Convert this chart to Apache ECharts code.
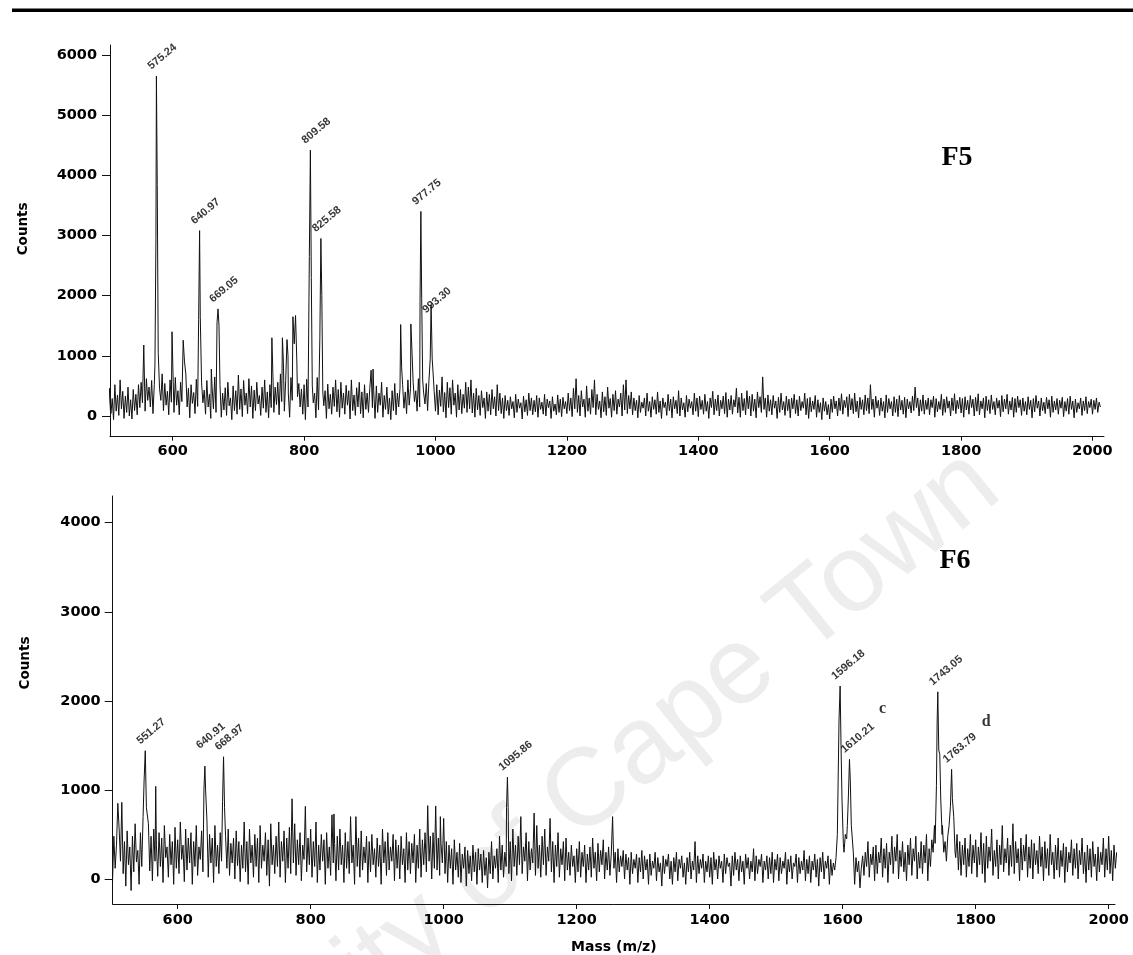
<!DOCTYPE html>
<html>
<head>
<meta charset="utf-8">
<script src="https://cdn.jsdelivr.net/npm/echarts@6/dist/echarts.min.js"></script>
<style>
html,body{margin:0;padding:0;background:#fff;}
#chart{width:1133px;height:955px;}
</style>
</head>
<body>
<div id="chart"></div>
<script>
// ---------- DATA ----------
const NOISE_START = 500;
const NOISE_STEP = 2;

const f5Noise = [
  380, -20, 460, 40, 290, -60, 520, 80, 350, 10, 600, 120, 410, -40, 330, 60, 480, 0, 270, -50, 440, 90, 360, 20, 520,
  140, 560, 220, 430, 80, 620, 260, 480, 150, 590, 40, 520, 200, 640, 110, 460, 260, 700, 90, 540, 180, 410, 20, 600, 230,
  500, 60, 640, 180, 420, 20, 560, 240, 380, 90, 700, 150, 460, -30, 520, 210, 390, 40, 610, 160, 480, 70, 550, 220, 430,
  30, 590, 150, 360, -40, 480, 120, 650, 60, 420, 180, 520, -20, 380, 100, 470, 10, 560, 170, 300, -60, 500, 90, 420, 30,
  680, 110, 450, -10, 590, 180, 380, 40, 620, 150, 500, -40, 430, 90, 560, 200, 340, 10, 480, 130, 600, 60, 400, -30, 520,
  140, 660, 60, 480, 190, 560, 20, 700, 240, 420, 80, 590, 150, 380, -20, 640, 260, 500, 100, 880, 320, 540, 150, 450, 30,
  520, -60, 610, 150, 430, 40, 560, 220, 380, -30, 640, 100, 480, 10, 590, 170, 420, -40, 530, 120, 360, 30, 480, 160, 600,
  70, 440, -20, 560, 130, 380, 30, 510, 180, 420, -50, 600, 90, 350, 10, 470, 150, 560, 40, 400, -30, 520, 110, 380, 60,
  460, 760, 140, 420, -40, 500, 60, 380, 180, 560, -20, 340, 110, 480, 30, 300, -60, 420, 90, 540, 20, 380, 150, 460, 0,
  520, 130, 400, 40, 600, 180, 460, -10, 560, 240, 420, 80, 620, 150, 500, 60, 380, 200, 540, 90, 580, 120, 460, 30, 410,
  80, 520, 20, 430, 160, 650, 70, 390, -30, 560, 140, 470, 30, 600, 180, 380, -20, 520, 100, 440, 40, 360, 130, 560, 60,
  480, 120, 600, 50, 380, -20, 460, 100, 340, 10, 420, 140, 300, -40, 400, 80, 360, 20, 440, 120, 320, 0, 520, 90, 380,
  40, 300, -40, 340, 90, 260, 10, 320, 120, 240, -30, 360, 60, 280, 130, 220, -50, 330, 70, 270, 10, 380, 90, 300, 20,
  260, 70, 340, -20, 300, 110, 230, 30, 360, 0, 280, 140, 250, -40, 320, 80, 200, 20, 350, 60, 280, -10, 310, 120, 240,
  40, 380, 90, 300, -10, 460, 120, 620, 60, 340, 0, 420, 150, 280, -20, 500, 80, 300, 30, 440, 140, 600, 20, 360, 110,
  250, -30, 400, 70, 320, 10, 480, 130, 290, -20, 360, 90, 420, 30, 280, 150, 380, 0, 520, 100, 600, 40, 340, 120, 400,
  20, 300, 90, 260, -30, 340, 60, 230, 130, 300, 0, 380, 80, 240, -20, 320, 110, 270, 30, 400, 60, 250, -40, 300, 140,
  230, 10, 360, 90, 280, -30, 320, 120, 260, 40, 420, 0, 300, 100, 220, -20, 340, 70, 280, 130, 240, 20, 380, 80, 300,
  -10, 330, 110, 260, 30, 360, 80, 240, -40, 300, 140, 410, 20, 280, 90, 350, 0, 260, 120, 330, 40, 390, -20, 280, 100,
  340, 30, 270, 150, 460, 50, 310, -20, 380, 90, 290, 20, 420, 120, 330, 0, 360, 80, 280, -30, 400, 140, 320, 60, 650,
  110, 300, -20, 350, 80, 270, 20, 340, 130, 250, -40, 310, 60, 380, 100, 240, 10, 330, 90, 280, -30, 300, 120, 360, 40,
  270, 0, 330, 90, 240, 130, 380, 20, 290, -40, 310, 70, 250, 110, 340, -20, 270, 60, 220, -60, 300, 80, 240, 20, 190,
  -50, 280, 60, 330, 120, 250, 0, 300, 90, 370, 30, 260, 140, 320, -10, 360, 100, 290, 40, 380, 70, 250, -30, 310, 110,
  270, 20, 350, 90, 300, 40, 520, 110, 280, -20, 330, 130, 260, 10, 300, 80, 240, -30, 350, 60, 290, 120, 240, 0, 320,
  60, 280, -10, 340, 100, 260, 30, 310, -30, 280, 120, 240, 50, 330, 90, 480, 140, 300, 0, 270, 80, 350, 30, 260, 110,
  300, 20, 270, 140, 330, -20, 290, 70, 240, 110, 360, 10, 280, 60, 320, 130, 250, 0, 300, 90, 370, 40, 260, 120, 310,
  50, 290, -20, 320, 100, 260, 30, 340, 140, 280, 0, 310, 80, 370, 20, 250, 120, 300, -30, 330, 90, 270, 40, 350, 110,
  240, 20, 300, 130, 260, -10, 340, 70, 280, 120, 360, 30, 250, 100, 310, -20, 290, 60, 330, 140, 270, 10, 300, 80, 240,
  20, 320, 110, 260, -30, 290, 70, 340, 130, 250, 0, 300, 90, 230, 40, 310, 120, 270, -20, 330, 60, 250, 100, 290, 30,
  260, 130, 310, -10, 240, 80, 290, 30, 330, 110, 250, -30, 280, 60, 220, 120, 300, 10, 250, 90, 320, 40, 240, 140, 280,
  30, 260, 110, 300, 60, 230, 150
];

const f6Noise = [
  720, -40, 480, 120, 380, -110, 560, 200, 860, 60, 420, -80, 540, 160, 360, -130, 480, 80, 620, 190, 320, -60, 520, 140, 700,
  400, 1000, 180, 620, 90, 480, -20, 560, 200, 380, 30, 520, 140, 460, -40, 600, 240, 360, 20, 500, 160, 420, -60, 580, 120,
  440, 60, 640, 220, 380, -30, 560, 100, 460, 180, 520, -60, 420, 140, 600, 40, 360, 220, 540, 80, 420, 160, 660, 20, 500,
  180, 460, -40, 600, 140, 380, 60, 520, 200, 420, -20, 480, 120, 560, 40, 400, 180, 460, 0, 540, 150, 420, -30, 380, 120,
  640, 80, 420, -60, 560, 180, 380, 20, 500, 140, 460, -40, 600, 120, 380, 200, 520, 40, 440, -80, 620, 160, 380, 60, 480,
  140, 640, 20, 420, 200, 540, -40, 460, 120, 580, 60, 900, 180, 620, 40, 440, 160, 520, -20, 380, 220, 800, 80, 460, 160,
  560, 20, 420, 140, 640, -40, 380, 100, 500, 200, 440, -60, 520, 120, 360, 40, 720, 180, 400, -20, 480, 100, 560, 160, 380,
  -40, 520, 120, 420, 60, 600, 180, 380, -60, 700, 140, 460, 20, 540, 100, 360, 180, 480, -40, 420, 80, 500, 160, 340, 20,
  460, 140, 380, -60, 560, 180, 420, 40, 520, 100, 360, 200, 500, -20, 440, 120, 380, 0, 480, 160, 340, -40, 520, 100, 420,
  60, 400, 180, 500, -40, 380, 120, 560, 20, 440, 160, 520, 80, 380, 200, 480, 0, 520, 120, 820, 100, 460, 40, 400, 180,
  680, 60, 420, -40, 380, 120, 340, -60, 440, 100, 300, 20, 400, -40, 280, 120, 360, -80, 320, 60, 260, -20, 380, 80, 300,
  -60, 340, 100, 280, -40, 320, 40, 240, -100, 300, 60, 420, 0, 260, 120, 340, -40, 480, 100, 380, 20, 300, 140, 500, 60,
  420, -20, 560, 140, 380, 40, 480, 160, 700, 60, 360, 200, 520, -20, 420, 100, 340, 180, 740, 40, 600, 120, 380, 20, 480,
  160, 560, 40, 360, 200, 680, 80, 420, -40, 380, 140, 520, 20, 340, 160, 420, -20, 460, 100, 300, 40, 380, 140, 260, -40,
  340, 80, 420, 20, 300, 140, 380, -40, 280, 100, 360, 20, 460, 120, 300, -20, 400, 80, 320, 160, 440, 0, 300, 100, 360,
  40, 280, 700, 120, 300, -40, 340, 80, 260, 140, 320, 0, 280, 100, 240, -60, 300, 60, 220, 120, 280, -40, 240, 80, 320,
  0, 260, 100, 220, -60, 280, 40, 200, 120, 300, -20, 240, 80, 180, -80, 260, 60, 220, 140, 280, 0, 200, -60, 240, 80,
  300, -20, 220, 120, 260, 20, 180, -60, 240, 80, 300, 0, 200, 100, 420, -40, 260, 60, 220, 120, 280, -40, 200, 80, 260,
  20, 240, -60, 300, 100, 220, 0, 260, 120, 200, -40, 280, 60, 240, 140, 180, -80, 260, 40, 300, 100, 220, -20, 260, 80,
  200, -60, 280, 120, 240, 0, 200, 80, 340, -20, 260, 60, 220, 140, 280, -40, 200, 100, 260, 0, 240, 60, 300, -40, 220,
  100, 280, -20, 240, 60, 200, 120, 300, -60, 220, 80, 260, 0, 180, 140, 280, -40, 240, 60, 200, 100, 320, -20, 220, 60,
  260, -40, 200, 100, 280, 20, 220, -80, 240, 80, 300, 0, 200, 120, 260, -60, 220, 40, 180, 100, 240, 340, 200, 500, 900,
  400, 300, 500, 450, 700, 900, 1100, 600, 300, -60, 240, 80, 200, -100, 120, 260, 40, 300, 140, 420, 20, 280, 160, 360, -20,
  380, 60, 300, 180, 460, 20, 340, 120, 400, -40, 300, 160, 480, 60, 360, 200, 500, 0, 320, 140, 420, 80, 300, -20, 380,
  160, 460, 40, 340, 200, 480, 0, 300, 120, 420, 60, 380, 180, 500, -20, 340, 140, 440, 300, 600, 900, 1200, 1400, 1300, 900,
  600, 300, 420, 200, 480, 500, 600, 700, 600, 500, 240, 500, 100, 420, 40, 380, 160, 460, 20, 340, 140, 500, 60, 380, 180,
  440, 20, 360, 160, 520, 60, 400, -40, 480, 120, 360, 200, 560, 40, 320, 140, 440, 0, 380, 160, 600, 80, 340, 180, 460,
  40, 380, 140, 620, 60, 420, 180, 340, -20, 460, 100, 380, 200, 500, 20, 360, 120, 440, 0, 400, 160, 320, 60, 480, 140,
  360, -20, 420, 120, 340, 40, 500, 160, 300, 0, 380, 100, 460, 20, 320, 140, 400, -40, 360, 80, 300, 180, 440, 40, 340,
  120, 400, 0, 320, 160, 460, 60, 300, -40, 380, 100, 340, 20, 420, 140, 280, -20, 360, 80, 300, 160, 460, 20, 340, 100,
  480, 60, 320, -20, 380, 120, 300
];

// Peak clusters: [m/z, counts]
const f5Peaks = [
  [[556, 1180]],
  [[573, 850], [574.5, 2950], [575.24, 5650], [576.5, 3850], [578, 1050]],
  [[599, 1400], [600.5, 700]],
  [[616, 1260], [618, 900]],
  [[639.5, 1600], [640.97, 3080], [642, 1650]],
  [[658.8, 780]],
  [[667.5, 1550], [669.05, 1780], [670.5, 1500]],
  [[751, 1300], [752.5, 700]],
  [[767, 1300], [768.5, 900]],
  [[774, 1270], [775.5, 1000]],
  [[783, 1650], [785, 1200], [787, 1670], [789, 900]],
  [[808, 2650], [809.58, 4420], [811, 2300], [812.5, 500]],
  [[824, 1300], [825.58, 2950], [827, 2000], [828.5, 400]],
  [[905, 780]],
  [[947, 1520], [948.5, 800]],
  [[962.5, 1530], [964.5, 1000]],
  [[976.5, 1900], [977.75, 3400], [979, 1950], [980.5, 600]],
  [[992, 950], [993.3, 1850], [995, 950], [997, 600]]
];

const f6Peaks = [
  [[510, 850]],
  [[549.5, 1100], [551.27, 1440], [553, 800], [555, 820]],
  [[567, 1040]],
  [[639.5, 1000], [640.91, 1267], [642, 1000]],
  [[667.5, 870], [668.97, 1372], [670.5, 800]],
  [[773, 910]],
  [[792, 815]],
  [[835, 730]],
  [[860, 700]],
  [[976, 823]],
  [[995, 700]],
  [[1094.5, 800], [1095.86, 1143], [1097, 800]],
  [[1592, 500], [1594.5, 1784], [1596.18, 2166], [1597.5, 1500], [1599, 886], [1601, 400]],
  [[1607, 600], [1608.5, 909], [1610.21, 1343], [1611.5, 1100], [1613, 600]],
  [[1739, 400], [1741, 1050], [1742, 1750], [1743.05, 2101], [1744.5, 1448], [1746, 1400], [1747.5, 887], [1749.5, 500]],
  [[1760, 600], [1762, 812], [1763.79, 1231], [1765, 900], [1767, 700], [1769, 300]]
];

// Labelled peaks: m/z and the counts level at which each label sits
const f5LabelMz = [575.24, 640.97, 669.05, 809.58, 825.58, 977.75, 993.30];
const f5LabelCounts = [5650, 3080, 1780, 4420, 2950, 3400, 1600];
const f6LabelMz = [551.27, 640.91, 668.97, 1095.86, 1596.18, 1610.21, 1743.05, 1763.79];
const f6LabelCounts = [1440, 1390, 1372, 1143, 2166, 1343, 2101, 1231];

// Letter annotations in F6 [m/z, counts, text]
const f6Letters = [[1660, 1910, 'c'], [1816, 1766, 'd']];

// Axis ticks
const xTicks = [600, 800, 1000, 1200, 1400, 1600, 1800, 2000];
const f5YTicks = [0, 1000, 2000, 3000, 4000, 5000, 6000];
const f6YTicks = [0, 1000, 2000, 3000, 4000];

// ---------- BUILD ----------
function buildSpectrum(noise, peaks) {
  let pts = noise.map((v, i) => [NOISE_START + i * NOISE_STEP, v]);
  peaks.forEach(cl => {
    const lo = cl[0][0], hi = cl[cl.length - 1][0];
    pts = pts.filter(p => p[0] < lo - 0.01 || p[0] > hi + 0.01);
  });
  peaks.forEach(cl => cl.forEach(p => pts.push(p)));
  pts.sort((a, b) => a[0] - b[0]);
  return pts;
}

const BLACK = '#111';
const tickFont = { fontFamily: 'DejaVu Sans', fontWeight: 'bold', fontSize: 14.5, color: '#000' };
const plain = v => String(v);

function xAxisCfg(gridIndex, min, max, margin, tickLen, name) {
  return {
    type: 'value', gridIndex, min, max,
    axisLine: { show: true, onZero: false, lineStyle: { color: BLACK, width: 1 } },
    axisTick: { show: true, inside: false, length: tickLen, customValues: xTicks, lineStyle: { color: BLACK } },
    axisLabel: Object.assign({ customValues: xTicks, margin: margin, formatter: plain }, tickFont),
    splitLine: { show: false },
    name: name || '', nameLocation: 'middle', nameGap: 36,
    nameTextStyle: { fontFamily: 'DejaVu Sans', fontWeight: 'bold', fontSize: 14, color: '#000' }
  };
}
function yAxisCfg(gridIndex, min, max, ticks, margin, namePad) {
  return {
    type: 'value', gridIndex, min, max,
    axisLine: { show: true, onZero: false, lineStyle: { color: BLACK, width: 1 } },
    axisTick: { show: true, inside: false, length: 8, customValues: ticks, lineStyle: { color: BLACK } },
    axisLabel: Object.assign({ customValues: ticks, margin: margin, formatter: plain }, tickFont),
    splitLine: { show: false },
    name: 'Counts', nameLocation: 'middle', nameGap: 80, nameRotate: 90,
    nameTextStyle: { fontFamily: 'DejaVu Sans', fontWeight: 'bold', fontSize: 13.5, color: '#000', padding: [0, 0, 0, namePad] }
  };
}
function labelSeries(idx, mz, counts) {
  return {
    type: 'scatter', xAxisIndex: idx, yAxisIndex: idx, symbolSize: 1,
    itemStyle: { color: 'rgba(0,0,0,0)' }, silent: true, z: 5,
    data: mz.map((m, i) => ({ value: [m, counts[i]], name: m.toFixed(2) })),
    label: {
      show: true, formatter: '{b}', position: [-6.5, -8], rotate: 40,
      align: 'left', verticalAlign: 'middle',
      fontFamily: 'Liberation Sans', fontWeight: 'bold', fontSize: 11, color: '#000'
    }
  };
}

const chart = echarts.init(document.getElementById('chart'), null, { renderer: 'canvas' });
chart.setOption({
  animation: false,
  backgroundColor: '#fff',
  grid: [
    { left: 110, top: 45, width: 994, height: 391.7 },
    { left: 112.7, top: 496, width: 1002.3, height: 408 }
  ],
  xAxis: [xAxisCfg(0, 504.6, 2017.5, 7, 4), xAxisCfg(1, 502.3, 2009.5, 9, 5, 'Mass (m/z)')],
  yAxis: [yAxisCfg(0, -344, 6166, f5YTicks, 13, 24), yAxisCfg(1, -281, 4300, f6YTicks, 12, 74)],
  series: [
    { type: 'line', xAxisIndex: 0, yAxisIndex: 0, data: buildSpectrum(f5Noise, f5Peaks), showSymbol: false, symbol: 'none',
      smooth: false, clip: true, lineStyle: { color: BLACK, width: 1 }, silent: true },
    { type: 'line', xAxisIndex: 1, yAxisIndex: 1, data: buildSpectrum(f6Noise, f6Peaks), showSymbol: false, symbol: 'none',
      smooth: false, clip: true, lineStyle: { color: BLACK, width: 1 }, silent: true },
    labelSeries(0, f5LabelMz, f5LabelCounts),
    labelSeries(1, f6LabelMz, f6LabelCounts),
    { type: 'scatter', xAxisIndex: 1, yAxisIndex: 1, symbolSize: 1, itemStyle: { color: 'rgba(0,0,0,0)' }, silent: true,
      data: f6Letters.map(d => ({ value: [d[0], d[1]], name: d[2] })),
      label: { show: true, formatter: '{b}', position: 'inside', fontFamily: 'Liberation Serif', fontWeight: 'bold', fontSize: 16, color: '#000' } }
  ],
  graphic: [
    { type: 'rect', shape: { x: 12, y: 8.5, width: 1121, height: 3.5 }, style: { fill: '#000' } },
    { type: 'text', x: 1020, y: 515, rotation: 39 * Math.PI / 180, z: -10, silent: true,
      style: { text: 'University of Cape Town', fontFamily: 'Liberation Sans', fontSize: 110, fill: '#ededed',
               textAlign: 'right', textVerticalAlign: 'bottom' } },
    { type: 'text', x: 957, y: 158, style: { text: 'F5', fontFamily: 'Liberation Serif', fontWeight: 'bold', fontSize: 28, fill: '#000', textAlign: 'center', textVerticalAlign: 'middle' } },
    { type: 'text', x: 955, y: 561, style: { text: 'F6', fontFamily: 'Liberation Serif', fontWeight: 'bold', fontSize: 28, fill: '#000', textAlign: 'center', textVerticalAlign: 'middle' } }
  ]
});
</script>
</body>
</html>
